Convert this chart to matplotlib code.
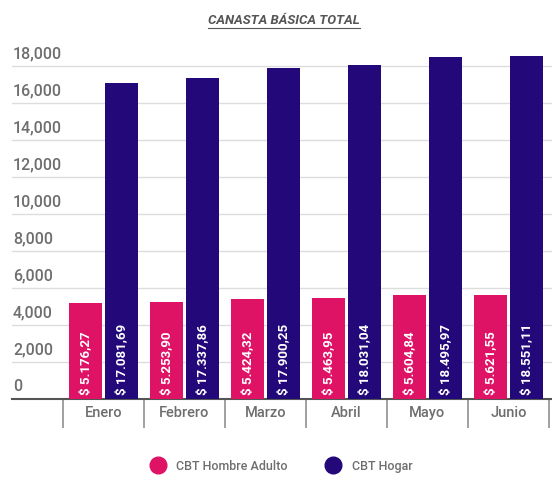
import matplotlib.pyplot as plt
import numpy as np
from matplotlib.lines import Line2D

meses = ['Enero', 'Febrero', 'Marzo', 'Abril', 'Mayo', 'Junio']
cbt_hombre = [5176.27, 5253.90, 5424.32, 5463.95, 5604.84, 5621.55]
cbt_hogar = [17081.69, 17337.86, 17900.25, 18031.04, 18495.97, 18551.11]
yticks = [0, 2000, 4000, 6000, 8000, 10000, 12000, 14000, 16000, 18000]

rosa = '#DF1366'
azul = '#23087A'
gris = '#6e6e6e'


def pesos(v):
    s = '{:,.2f}'.format(v)
    s = s.replace(',', 'X').replace('.', ',').replace('X', '.')
    return '$ ' + s


plt.rcParams['font.family'] = ['Roboto', 'DejaVu Sans']

fig = plt.figure(figsize=(5.52, 4.78), dpi=100)
ax = fig.add_axes([12 / 552, 1 - 399 / 478, 540 / 552, (399 - 47.5) / 478])

x = np.arange(len(meses))
w = 0.41
ax.bar(x - 0.225, cbt_hombre, w, color=rosa, zorder=3)
ax.bar(x + 0.225, cbt_hogar, w, color=azul, zorder=3)

for i in range(len(meses)):
    ax.text(x[i] - 0.225, 220, pesos(cbt_hombre[i]), rotation=90, ha='center',
            va='bottom', color='white', fontsize=9.5, fontweight='bold', zorder=4)
    ax.text(x[i] + 0.225, 220, pesos(cbt_hogar[i]), rotation=90, ha='center',
            va='bottom', color='white', fontsize=9.5, fontweight='bold', zorder=4)

ax.set_xlim(-0.5 - 51 / 81, 5.5 + 3 / 81)
ax.set_ylim(0, 19000)

ax.set_yticks(yticks)
ax.yaxis.grid(True, color='#dddddd', lw=1, zorder=0)
ax.tick_params(axis='y', length=0, labelleft=False)
for t in yticks:
    ax.text(0.002, t + 250, '{:,}'.format(t), transform=ax.get_yaxis_transform(),
            ha='left', va='bottom', fontsize=11.5, fontweight='medium', color=gris)

ax.set_xticks(x)
ax.set_xticklabels(meses, fontsize=10.5, color=gris, fontweight='medium')
ax.set_xticks(np.arange(-0.5, 6, 1), minor=True)
ax.tick_params(axis='x', which='major', length=0, pad=5)
ax.tick_params(axis='x', which='minor', length=21, width=1.3, color='#999999')

for s in ['top', 'right', 'left']:
    ax.spines[s].set_visible(False)
ax.spines['bottom'].set_color('#555555')
ax.spines['bottom'].set_linewidth(1.5)

tit = fig.text(0.514, 0.958, 'CANASTA BÁSICA TOTAL', ha='center', va='center',
               fontsize=9.5, fontstyle='italic', fontweight='bold', color='#555555')
fig.canvas.draw()
bb = tit.get_window_extent().transformed(fig.transFigure.inverted())
fig.add_artist(Line2D([bb.x0, bb.x1], [bb.y0 - 0.002, bb.y0 - 0.002],
                      transform=fig.transFigure, color='#555555', lw=0.8))

handles = [
    Line2D([], [], marker='o', ls='', ms=12, color=rosa, label='CBT Hombre Adulto'),
    Line2D([], [], marker='o', ls='', ms=12, color=azul, label='CBT Hogar'),
]
leg = fig.legend(handles=handles, loc='center', bbox_to_anchor=(0.505, 0.025),
                 ncol=2, frameon=False, handletextpad=0.5, columnspacing=2.6,
                 prop={'size': 9, 'weight': 'medium'})
for t in leg.get_texts():
    t.set_color(gris)

fig.savefig('out.png', dpi=100)
